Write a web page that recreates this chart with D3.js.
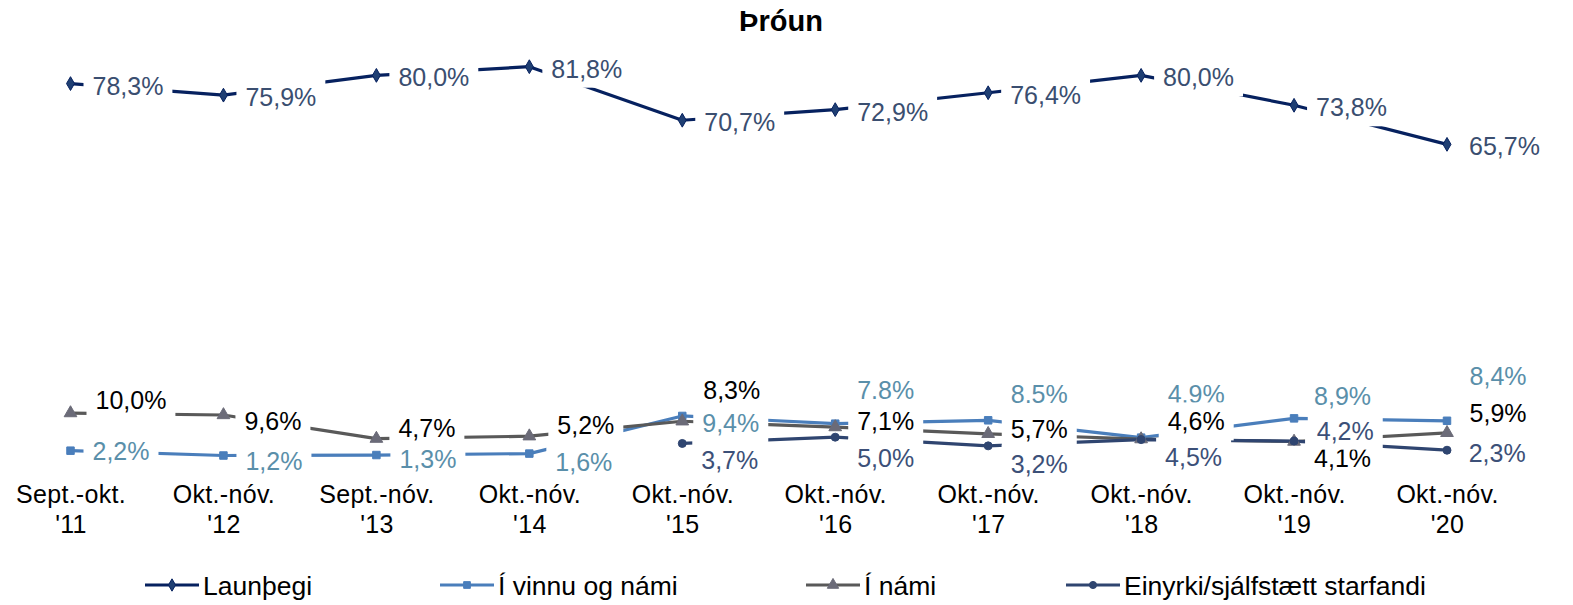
<!DOCTYPE html>
<html>
<head>
<meta charset="utf-8">
<script src="https://cdn.jsdelivr.net/npm/d3@7/dist/d3.min.js"></script>
<style>
  html, body { margin: 0; padding: 0; background: #fff; }
  svg { display: block; font-family: "Liberation Sans", Arial, sans-serif; }
</style>
</head>
<body>
<svg id="chart" width="1573" height="605"></svg>
<script>
// ---- Data ----
const title = "Þróun";
const catLine1 = ["Sept.-okt.", "Okt.-nóv.", "Sept.-nóv.", "Okt.-nóv.", "Okt.-nóv.", "Okt.-nóv.", "Okt.-nóv.", "Okt.-nóv.", "Okt.-nóv.", "Okt.-nóv."];
const catLine2 = ["'11", "'12", "'13", "'14", "'15", "'16", "'17", "'18", "'19", "'20"];

const launthegi = [78.3, 75.9, 80.0, 81.8, 70.7, 72.9, 76.4, 80.0, 73.8, 65.7];
const iVinnuOgNami = [2.2, 1.2, 1.3, 1.6, 9.4, 7.8, 8.5, 4.9, 8.9, 8.4];
const iNami = [10.0, 9.6, 4.7, 5.2, 8.3, 7.1, 5.7, 4.6, 4.1, 5.9];
const einyrki = [null, null, null, null, 3.7, 5.0, 3.2, 4.5, 4.2, 2.3];

const launthegiLabels = ["78,3%", "75,9%", "80,0%", "81,8%", "70,7%", "72,9%", "76,4%", "80,0%", "73,8%", "65,7%"];
const iVinnuLabels = ["2,2%", "1,2%", "1,3%", "1,6%", "9,4%", "7.8%", "8.5%", "4.9%", "8,9%", "8,4%"];
const iNamiLabels = ["10,0%", "9,6%", "4,7%", "5,2%", "8,3%", "7,1%", "5,7%", "4,6%", "4,1%", "5,9%"];
const einyrkiLabels = [null, null, null, null, "3,7%", "5,0%", "3,2%", "4,5%", "4,2%", "2,3%"];

const seriesNames = ["Launþegi", "Í vinnu og námi", "Í námi", "Einyrki/sjálfstætt starfandi"];

// ---- Layout (label placement offsets in px, [dx, dy]) ----
const launthegiOff = launthegi.map(() => [22, 2]);
const iVinnuOff = [[22, 0.6], [22, 5], [23, 4], [26, 8], [20, 7], [22, -34], [22.6, -26], [26.6, -44], [20, -22.6], [22.6, -44.3]];
const iNamiOff = [[25, -13], [21, 5.7], [22, -10.6], [28, -11], [21, -31], [22, -5.7], [22.6, -4.8], [26.6, -17.7], [20, 16.3], [22.6, -20.3]];
const einyrkiOff = [null, null, null, null, [19, 16.5], [22, 20.5], [22.6, 18], [24, 17.4], [22.7, -10.4], [21.7, 3.1]];

const legendX = [145, 440, 806, 1066];

// ---- Styles ----
const styles = [
  { line: "#06215F", mfill: "#1F3F73", mstroke: "#06215F", label: "#3A4E70", marker: d3.symbolDiamond, msize: 55 },
  { line: "#4A7EBB", mfill: "#4A7EBB", mstroke: "#4A7EBB", label: "#5A8FAA", marker: d3.symbolSquare, msize: 56 },
  { line: "#595959", mfill: "#6B6B78", mstroke: "#6B6B78", label: "#000000", marker: d3.symbolTriangle, msize: 70 },
  { line: "#2F4570", mfill: "#2F4570", mstroke: "#2F4570", label: "#3C5078", marker: d3.symbolCircle, msize: 50 }
];

const series = [
  { values: launthegi, labels: launthegiLabels, off: launthegiOff },
  { values: iVinnuOgNami, labels: iVinnuLabels, off: iVinnuOff },
  { values: iNami, labels: iNamiLabels, off: iNamiOff },
  { values: einyrki, labels: einyrkiLabels, off: einyrkiOff }
];

const svg = d3.select("#chart");
const idx = d3.range(catLine1.length);
const x = d3.scalePoint().domain(idx).range([70.5, 1447]);
const y = d3.scaleLinear().domain([0, 100]).range([461.3, -21.1]);

// Title
svg.append("text").attr("x", 781).attr("y", 31).attr("text-anchor", "middle")
  .attr("font-size", 29).attr("font-weight", "bold").attr("fill", "#000").text(title);

// Category axis (no line, labels only)
const axis = d3.axisBottom(x).tickSize(0).tickFormat(() => "");
const axisG = svg.append("g").attr("transform", "translate(0,480)").call(axis);
axisG.select(".domain").remove();
axisG.selectAll(".tick").each(function(d) {
  const t = d3.select(this).append("text").attr("text-anchor", "middle")
    .attr("font-size", 25).attr("fill", "#000").attr("letter-spacing", "0.3px");
  t.append("tspan").attr("x", 0).attr("y", 22.7).text(catLine1[d]);
  t.append("tspan").attr("x", 0).attr("y", 53.3).text(catLine2[d]);
});

const lineGen = d3.line().defined(d => d.v != null).x(d => x(d.i)).y(d => y(d.v));

// Lines
series.forEach((s, k) => {
  const pts = s.values.map((v, i) => ({ i, v }));
  svg.append("path").datum(pts).attr("d", lineGen)
    .attr("fill", "none").attr("stroke", styles[k].line).attr("stroke-width", 3.2)
    .attr("stroke-linejoin", "round");
});
// Markers
series.forEach((s, k) => {
  const pts = s.values.map((v, i) => ({ i, v })).filter(d => d.v != null);
  svg.append("g").selectAll("path").data(pts).join("path")
    .attr("d", d3.symbol().type(styles[k].marker).size(styles[k].msize))
    .attr("transform", d => `translate(${x(d.i)},${y(d.v)})`)
    .attr("fill", styles[k].mfill).attr("stroke", styles[k].mstroke).attr("stroke-width", 1);
});
// Labels with white background
series.forEach((s, k) => {
  const g = svg.append("g");
  s.values.forEach((v, i) => {
    if (v == null || s.labels[i] == null) return;
    const [dx, dy] = s.off[i];
    const lg = g.append("g");
    const t = lg.append("text")
      .attr("x", x(i) + dx).attr("y", y(v) + dy + 9)
      .attr("font-size", 25).attr("fill", styles[k].label).text(s.labels[i]);
    const bb = t.node().getBBox();
    lg.insert("rect", "text").attr("x", bb.x - 9).attr("y", bb.y - 5)
      .attr("width", bb.width + 18).attr("height", bb.height + 10).attr("fill", "#fff");
  });
});

// Legend
const ly = 585;
seriesNames.forEach((name, k) => {
  const lx = legendX[k];
  const g = svg.append("g");
  g.append("line").attr("x1", lx).attr("x2", lx + 54).attr("y1", ly).attr("y2", ly)
    .attr("stroke", styles[k].line).attr("stroke-width", 3.2);
  g.append("path").attr("d", d3.symbol().type(styles[k].marker).size(styles[k].msize * 0.8))
    .attr("transform", `translate(${lx + 27},${ly})`)
    .attr("fill", styles[k].mfill).attr("stroke", styles[k].mstroke);
  g.append("text").attr("x", lx + 58).attr("y", ly + 9.5).attr("font-size", 26.5)
    .attr("fill", "#000").text(name);
});
</script>
</body>
</html>
